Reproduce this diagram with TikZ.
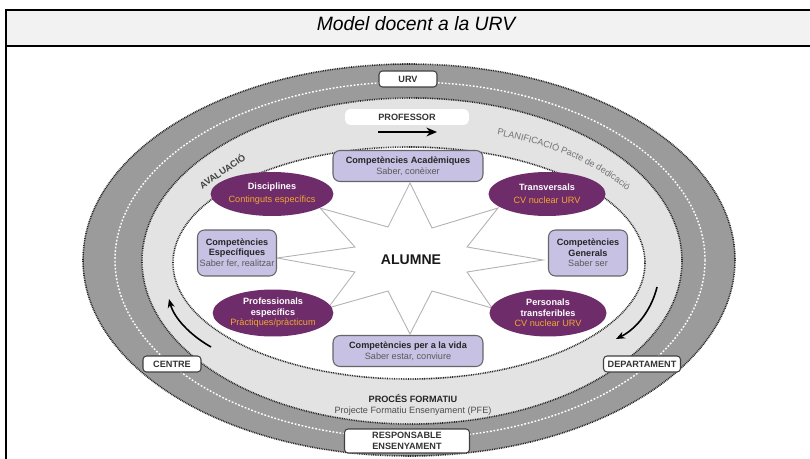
\documentclass[tikz,border=0pt]{standalone}
\usepackage{fontspec}
\setmainfont{Liberation Sans}
\setsansfont{Liberation Sans}
\usetikzlibrary{positioning,shapes.geometric,arrows.meta,decorations.text}

\definecolor{bandgray}{HTML}{9B9B9B}
\definecolor{ringgray}{HTML}{E3E3E3}
\definecolor{headgray}{HTML}{F2F2F2}
\definecolor{lilac}{HTML}{C7C1E3}
\definecolor{plum}{HTML}{6F2C6B}
\definecolor{amber}{HTML}{F2A72E}
\newcommand{\tinyfont}{\fontsize{5.2}{6}\selectfont}
\newcommand{\hd}[1]{{\bfseries\color{black!85}#1}}
\newcommand{\wt}[1]{{\bfseries\color{white}#1}}

\begin{document}
\begin{tikzpicture}[x=0.02cm, y=-0.02cm,
    ringline/.style={draw=black!85, line width=0.9pt, dash pattern=on 0.5pt off 0.5pt},
    tag/.style={draw=black!75, fill=white, rounded corners=2pt, line width=0.6pt,
      font=\tinyfont\bfseries, text=black!80, inner sep=0pt, minimum height=0.32cm},
    compbox/.style={draw=black!60, fill=lilac, rounded corners=4pt, line width=0.6pt,
      align=center, font=\tinyfont, text=black!65, inner sep=1pt},
    compell/.style={ellipse, fill=plum, align=center, font=\tinyfont, text=amber,
      inner sep=0pt, minimum width=2.34cm},
    cycarrow/.style={-{Stealth[length=5pt,width=4pt]}, line width=0.9pt}]

  \useasboundingbox (0,0) rectangle (810,459);

  % table frame and title
  \fill[headgray] (6,10) rectangle (812,46);
  \draw[line width=1.2pt] (6,461) -- (6,10) -- (812,10);
  \draw[line width=1.2pt] (6,46) -- (812,46);
  \node (title) at (416,24) {\fontsize{11}{13}\selectfont\itshape Model docent a la URV};

  % rings
  \filldraw[fill=bandgray, ringline] (409,260) ellipse [x radius=326, y radius=196];
  \draw[white, line width=0.8pt, dash pattern=on 1pt off 1pt]
    (410,260) ellipse [x radius=295, y radius=178];
  \filldraw[fill=ringgray, ringline] (412,261) ellipse [x radius=270, y radius=163];
  \filldraw[fill=white, ringline] (409,263) ellipse [x radius=236, y radius=116];

  % star
  \filldraw[fill=white, draw=black!30, line width=0.5pt]
    (410,183) -- (432,228) -- (498,208) -- (467,247) -- (543,260) -- (467,272)
    -- (492,308) -- (432,291) -- (410,334) -- (388,291) -- (328,308) -- (355,272)
    -- (277,258) -- (355,247) -- (320,208) -- (388,227) -- cycle;
  \node[font=\fontsize{8}{9}\selectfont\bfseries, text=black!90] (alumne) at (411,260) {ALUMNE};

  % competencies
  \node[compbox, minimum width=3.0cm, minimum height=0.62cm] (academiques) at (408,166)
    {\hd{Competències Acadèmiques}\\Saber, conèixer};
  \node[compbox, minimum width=1.58cm, minimum height=0.92cm] (especifiques) at (237,253)
    {\hd{Competències}\\\hd{Específiques}\\Saber fer, realitzar};
  \node[compbox, minimum width=1.58cm, minimum height=0.92cm] (generals) at (588,253)
    {\hd{Competències}\\\hd{Generals}\\Saber ser};
  \node[compbox, minimum width=3.0cm, minimum height=0.62cm] (vida) at (408,351)
    {\hd{Competències per a la vida}\\Saber estar, conviure};

  \node[compell, minimum height=0.88cm] (disciplines) at (272,194)
    {\wt{Disciplines}\\[1.5pt]Continguts específics};
  \node[compell, minimum height=0.88cm] (transversals) at (547,194)
    {\wt{Transversals}\\[1.5pt]CV nuclear URV};
  \node[compell, minimum height=0.94cm] (professionals) at (273,313)
    {\wt{Professionals}\\\wt{específics}\\Pràctiques/pràcticum};
  \node[compell, minimum height=0.94cm] (personals) at (548,313)
    {\wt{Personals}\\\wt{transferibles}\\CV nuclear URV};

  % ring labels
  \node[tag, minimum width=1.16cm] (urv) at (408,79) {URV};
  \node[tag, draw=none, rounded corners=3pt, minimum width=2.48cm] (professor) at (407,117) {PROFESSOR};
  \coordinate (profA) at (378,132);
  \coordinate (profB) at (437,132);
  \draw[-{Stealth[length=6pt,width=5pt]}, line width=1.1pt] (profA) -- (profB);

  \node[tag, minimum width=1.16cm] (centre) at (172,364) {CENTRE};
  \node[tag, minimum width=1.54cm] (departament) at (642,364) {DEPARTAMENT};
  \node[tag, minimum width=2.5cm, minimum height=0.48cm, align=center] (responsable) at (407,441)
    {RESPONSABLE\\ENSENYAMENT};

  \node[align=center, font=\tinyfont, text=black!70] (proces) at (413,405)
    {\hd{PROCÉS FORMATIU}\\Projecte Formatiu Ensenyament (PFE)};
  \node[rotate=34, inner sep=0pt, font=\tinyfont\bfseries, text=black!75] (avaluacio) at (222,171) {AVALUACIÓ};

  \path[decorate, decoration={text along path, text align=left,
      text={|\tinyfont\color{black!55}|PLANIFICACIÓ Pacte de dedicació}}]
    (497,135) arc [start angle=-70, end angle=-15, x radius=254, y radius=133];

  % cycle arrows
  \coordinate (leftA) at (211,347);
  \coordinate (leftB) at (169,299);
  \draw[cycarrow] (leftA) .. controls (190,335) and (174,318) .. (leftB);
  \coordinate (rightA) at (657,287);
  \coordinate (rightB) at (616,339);
  \draw[cycarrow] (rightA) .. controls (652,308) and (638,328) .. (rightB);

\end{tikzpicture}
\end{document}
